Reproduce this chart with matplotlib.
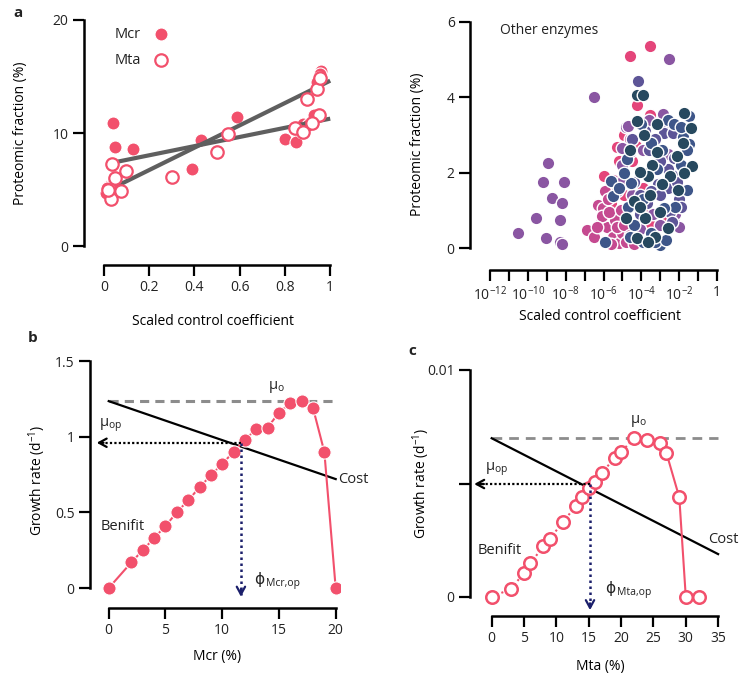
import matplotlib.pyplot as plt
import numpy as np
from matplotlib.ticker import NullLocator

# Panel a (left): proteomic fraction vs scaled control coefficient
mcr_cc = [0.04, 0.05, 0.13, 0.035, 0.02, 0.03, 0.01, 0.04, 0.015, 0.39, 0.43, 0.59,
          0.80, 0.85, 0.875, 0.88, 0.90, 0.93, 0.96, 0.955, 0.95, 0.94]
mcr_frac = [10.9, 8.8, 8.6, 7.3, 5.3, 4.9, 4.7, 5.5, 5.1, 6.8, 9.4, 11.4,
            9.5, 9.2, 10.1, 10.8, 10.7, 11.6, 15.5, 15.2, 14.9, 14.5]
mta_cc = [0.035, 0.047, 0.096, 0.074, 0.032, 0.018, 0.30, 0.50, 0.55,
          0.845, 0.897, 0.94, 0.956, 0.95, 0.88, 0.92]
mta_frac = [7.3, 6.0, 6.6, 4.9, 4.2, 5.0, 6.15, 8.35, 9.9,
            10.4, 13.0, 13.9, 14.9, 11.6, 10.1, 10.9]
# linear fits (slope, intercept) shown as grey lines
mcr_fit = (4.05, 7.22)
mta_fit = (9.88, 4.75)
fit_range = (0.06, 1.0)

# Panel a (right): other enzymes, log10 of control coefficient
pink_exp = [-4.6, -3.55, -5.3, -4.25, -3.55, -6.0, -5.6, -4.9, -3.9, -3.3, -2.9, -4.5,
            -5.2, -4.9, -3.9, -4.3, -4.9, -3.5, -2.8]
pink_frac = [5.10, 5.36, 2.69, 3.80, 3.53, 1.9, 1.2, 0.95, 1.0, 1.5, 3.2, 2.3,
             2.3, 3.0, 1.6, 2.7, 1.4, 0.6, 0.8]
magenta_exp = [-6.89, -6.3, -6.05, -6.2, -5.8, -5.5, -5.4, -5.2, -5.0, -5.9, -4.8, -4.6,
               -5.5, -6.5, -6.1, -5.7, -5.3, -5.6, -4.9, -4.6, -5.1, -6.35, -4.4, -5.75]
magenta_frac = [0.47, 1.15, 1.05, 0.65, 0.55, 0.30, 0.75, 0.13, 0.4, 1.5, 0.15, 2.9,
                1.8, 0.3, 0.85, 0.95, 0.55, 0.1, 0.6, 0.35, 1.0, 0.55, 0.1, 1.3]
purple_exp = [-10.54, -9.59, -9.22, -8.95, -9.06, -8.74, -8.21, -8.30, -8.09, -8.3, -8.18,
              -6.49, -2.53, -2.85, -4.8, -5.0, -4.5, -3.0, -2.3, -4.1, -2.6,
              -5.3, -4.95, -4.6, -3.9, -3.4, -2.2, -4.7, -3.6, -2.7, -2.0, -5.0]
purple_frac = [0.40, 0.80, 1.74, 2.25, 0.26, 1.33, 1.19, 0.75, 1.74, 0.15, 0.10,
               4.02, 5.01, 3.55, 3.2, 2.2, 1.4, 0.6, 0.7, 0.5, 2.5,
               1.5, 1.8, 2.55, 2.6, 0.9, 0.9, 3.25, 3.4, 3.3, 0.55, 2.65]
slate_exp = [-4.2, -3.6, -2.8, -2.4, -2.3, -2.6, -4.4, -3.1, -2.5, -3.5, -3.8, -2.0, -2.35,
             -4.1, -3.7, -3.3, -2.6, -2.1, -1.9, -3.0, -4.5, -4.1, -3.0, -2.4]
slate_frac = [4.43, 2.6, 3.05, 1.95, 2.4, 1.6, 1.75, 1.7, 0.95, 1.5, 3.1, 1.3, 3.05,
              1.4, 1.2, 2.9, 2.1, 1.75, 1.1, 2.3, 2.9, 0.9, 1.4, 0.7]
blue_exp = [-4.75, -5.6, -5.5, -5.9, -3.0, -4.55, -2.2, -3.9, -3.3, -4.4, -2.8,
            -1.8, -1.5, -1.9, -3.2, -1.6, -4.0, -3.7,
            -4.9, -5.2, -4.7, -3.5, -2.6, -3.9, -2.3, -1.6, -1.5, -3.5, -2.7, -4.6, -1.9, -2.9]
blue_frac = [2.36, 1.77, 1.37, 0.15, 0.09, 1.72, 1.10, 0.15, 0.15, 0.6, 1.05,
             2.95, 2.75, 2.2, 2.1, 1.55, 3.3, 2.0,
             2.0, 1.6, 1.1, 2.8, 3.4, 1.3, 3.3, 2.6, 3.5, 0.4, 0.2, 0.3, 3.2, 2.6]
navy_exp = [-4.25, -3.9, -4.25, -3.85, -3.2, -3.15, -3.45, -3.65, -4.05, -4.4, -4.8,
            -3.8, -4.25, -3.3, -2.6, -1.75, -1.40, -1.8, -1.3, -1.75, -2.5,
            -3.55, -2.9, -2.1, -4.6, -3.0, -2.05, -4.05, -3.65]
navy_frac = [4.06, 4.06, 3.38, 3.0, 3.3, 2.56, 2.2, 1.9, 2.03, 1.24, 0.80,
             0.80, 0.27, 0.29, 0.52, 3.58, 3.18, 2.78, 2.19, 1.99, 1.9,
             1.4, 1.7, 2.45, 2.6, 0.95, 1.55, 1.1, 0.15]

# Panel b: Mcr
mcr_pct = [0, 2, 3, 4, 5, 6, 7, 8, 9, 10, 11, 12, 13, 14, 15, 16, 17, 18, 19, 20]
mcr_benefit = [0, 0.17, 0.25, 0.33, 0.41, 0.50, 0.58, 0.665, 0.745, 0.82, 0.90,
               0.98, 1.05, 1.06, 1.16, 1.22, 1.235, 1.19, 0.90, 0]
mcr_cost = [1.235, 0.72]
mcr_mu_o = 1.235
mcr_mu_op = 0.96
mcr_phi_op = 11.65

# Panel c: Mta
mta_pct = [0, 3, 5, 6, 8, 9, 11, 13, 14, 15, 16, 17, 19, 20, 22, 24, 26, 27, 29, 30, 32]
mta_benefit = [0, 0.00034, 0.00106, 0.00147, 0.00224, 0.00256, 0.00329, 0.0040, 0.00441,
               0.00478, 0.00507, 0.00547, 0.0061, 0.00638, 0.00699, 0.00691, 0.0068,
               0.00635, 0.00438, 0, 0]
mta_cost = [0.00699, 0.00188]
mta_mu_o = 0.00699
mta_mu_op = 0.00497
mta_phi_op = 15.2

PINK = '#F2506C'
GREY_FIT = '#5F5F5F'
GREY_DASH = '#8C8C8C'
NAVY = '#1B1F6B'
ENZ_COLORS = ['#E4457A', '#C54A90', '#8A56A2', '#5D5597', '#3E5689', '#27495F']

plt.rcParams['font.family'] = ['Open Sans', 'DejaVu Sans']
plt.rcParams['mathtext.fontset'] = 'custom'
plt.rcParams['mathtext.rm'] = 'Open Sans'
plt.rcParams['mathtext.it'] = 'Open Sans:italic'
plt.rcParams['mathtext.bf'] = 'Open Sans:bold'
plt.rcParams['font.size'] = 10
plt.rcParams['axes.linewidth'] = 1.8
plt.rcParams['xtick.major.width'] = 1.6
plt.rcParams['ytick.major.width'] = 1.6
plt.rcParams['xtick.major.size'] = 8
plt.rcParams['ytick.major.size'] = 8
plt.rcParams['text.color'] = '#222222'
plt.rcParams['xtick.color'] = 'black'
plt.rcParams['ytick.color'] = 'black'
plt.rcParams['xtick.labelcolor'] = '#222222'
plt.rcParams['ytick.labelcolor'] = '#222222'

W, H = 741, 675
fig = plt.figure(figsize=(W / 100, H / 100), dpi=100)


def px_axes(left, top, right, bottom):
    return fig.add_axes([left / W, 1 - bottom / H, (right - left) / W, (bottom - top) / H])


def style(ax, xb, yb):
    for s in ('top', 'right'):
        ax.spines[s].set_visible(False)
    ax.spines['left'].set_bounds(*yb)
    ax.spines['bottom'].set_bounds(*xb)
    ax.tick_params(pad=3, labelsize=10)


def arrow_head(ax, x, y, dx, dy, color):
    ax.annotate('', xy=(x, y), xytext=(x + dx, y + dy),
                arrowprops=dict(arrowstyle='->,head_length=0.55,head_width=0.3',
                                lw=1.6, color=color, shrinkA=0, shrinkB=0))


def phi_label(ax, x, y, sub):
    # phi symbol from DejaVu (straight stem), subscript in the main font
    ax.text(x, y, '\u03d5', va='center', ha='left', fontsize=11, family='DejaVu Sans')
    ax.annotate(sub, (x, y), xytext=(8.5, -3), textcoords='offset points',
                va='center', ha='left', fontsize=7.5)


# ---- panel a left
ax1 = px_axes(84, 16.6, 337, 265)
ax1.scatter(mcr_cc, mcr_frac, s=88, color=PINK, edgecolor='white', linewidth=0.8,
            zorder=2, label='Mcr')
fx = np.array(fit_range)
for slope, icpt in (mcr_fit, mta_fit):
    ax1.plot(fx, slope * fx + icpt, color=GREY_FIT, lw=3, zorder=3,
             solid_capstyle='butt')
ax1.scatter(mta_cc, mta_frac, s=80, facecolor='white', edgecolor=PINK, linewidth=1.6,
            zorder=4, label='Mta')
ax1.set_xlim(-0.0885, 1.03)
ax1.set_ylim(-1.68, 20.3)
ax1.set_xticks([0, 0.2, 0.4, 0.6, 0.8, 1])
ax1.set_xticklabels(['0', '0.2', '0.4', '0.6', '0.8', '1'])
ax1.set_yticks([0, 10, 20])
style(ax1, (0, 1), (0, 20))
ax1.set_xlabel('Scaled control coefficient')
ax1.set_ylabel('Proteomic fraction (%)')
ax1.xaxis.set_label_coords(0.51, -0.196)
ax1.yaxis.set_label_coords(-0.222, 0.53)
ax1.legend(loc='upper left', bbox_to_anchor=(0.08, 0.998), frameon=False,
           markerfirst=False, handletextpad=0.35, labelspacing=0.7, fontsize=10.5,
           borderpad=0.2)

# ---- panel a right
ax2 = px_axes(470, 18, 722, 270)
groups = [(pink_exp, pink_frac), (magenta_exp, magenta_frac), (purple_exp, purple_frac),
          (slate_exp, slate_frac), (blue_exp, blue_frac), (navy_exp, navy_frac)]
for (ex, fr), col in zip(groups, ENZ_COLORS):
    ax2.scatter(10.0 ** np.array(ex), fr, s=82, color=col, edgecolor='white',
                linewidth=1.0, zorder=2)
ax2.set_xscale('log')
ax2.set_xlim(10 ** -13.06, 10 ** 0.26)
ax2.set_ylim(-0.584, 6.106)
decades = list(range(-12, 1))
ax2.set_xticks([10.0 ** k for k in decades])
ax2.set_xticklabels(['1' if k == 0 else (r'$10^{%d}$' % k if k % 2 == 0 else '')
                     for k in decades])
ax2.xaxis.set_minor_locator(NullLocator())
ax2.set_yticks([0, 2, 4, 6])
style(ax2, (1e-12, 1), (0, 6))
ax2.set_xlabel('Scaled control coefficient')
ax2.set_ylabel('Proteomic fraction (%)')
ax2.xaxis.set_label_coords(0.516, -0.156)
ax2.yaxis.set_label_coords(-0.178, 0.5)
ax2.text(0.12, 0.952, 'Other enzymes', transform=ax2.transAxes, va='center', ha='left')

# ---- panel b
ax3 = px_axes(90, 355, 340, 608)
ax3.plot([0, 20], [mcr_mu_o, mcr_mu_o], color=GREY_DASH, lw=2.2, dashes=(3, 2), zorder=1)
ax3.plot([0, 20], mcr_cost, color='black', lw=1.6, zorder=2)
ax3.plot(mcr_pct, mcr_benefit, color=PINK, lw=1.5, marker='o', ms=9.5,
         mfc=PINK, mec='white', mew=0.8, zorder=3)
ax3.plot([mcr_phi_op, -0.9], [mcr_mu_op, mcr_mu_op], color='black', lw=1.6,
         ls=(0, (1, 1)), zorder=4)
arrow_head(ax3, -1.06, mcr_mu_op, 0.6, 0, 'black')
ax3.plot([mcr_phi_op, mcr_phi_op], [mcr_mu_op, -0.045], color=NAVY, lw=1.8,
         ls=(0, (1, 1.4)), zorder=4)
arrow_head(ax3, mcr_phi_op, -0.057, 0, 0.05, NAVY)
ax3.set_xlim(-1.65, 20.38)
ax3.set_ylim(-0.132, 1.54)
ax3.set_xticks([0, 5, 10, 15, 20])
ax3.set_yticks([0, 0.5, 1, 1.5])
ax3.set_yticklabels(['0', '0.5', '1', '1.5'])
style(ax3, (0, 20), (0, 1.5))
ax3.set_xlabel('Mcr (%)')
ax3.set_ylabel('Growth rate (d$^{-1}$)')
ax3.xaxis.set_label_coords(0.51, -0.162)
ax3.yaxis.set_label_coords(-0.168, 0.506)
ax3.text(14.0, 1.33, 'μ$_{\\mathregular{o}}$', va='center', ha='left', fontsize=10.5)
ax3.text(-0.83, 1.077, 'μ$_{\\mathregular{op}}$', va='center', ha='left', fontsize=10.5)
ax3.text(-0.68, 0.405, 'Benifit', va='center', ha='left', fontsize=10.5)
ax3.text(20.23, 0.718, 'Cost', va='center', ha='left', fontsize=10.5, clip_on=False)
phi_label(ax3, 12.8, 0.055, 'Mcr,op')

# ---- panel c
ax4 = px_axes(470, 365, 722, 616)
ax4.plot([0, 35], [mta_mu_o, mta_mu_o], color=GREY_DASH, lw=2.0, dashes=(3.5, 2.5), zorder=1)
ax4.plot([0, 35], mta_cost, color='black', lw=1.6, zorder=2)
peak = mta_pct.index(27)
ax4.plot(mta_pct[:peak + 1], mta_benefit[:peak + 1], color=PINK, lw=1.5,
         ls=(0, (1, 1.5)), zorder=3)
ax4.plot(mta_pct[peak:], mta_benefit[peak:], color=PINK, lw=1.5, zorder=3)
ax4.plot(mta_pct, mta_benefit, ls='none', marker='o', ms=9, mfc='white', mec=PINK,
         mew=1.8, zorder=4)
ax4.plot([mta_phi_op, -2.6], [mta_mu_op, mta_mu_op], color='black', lw=1.6,
         ls=(0, (1, 1)), zorder=5)
arrow_head(ax4, -2.7, mta_mu_op, 1.5, 0, 'black')
ax4.plot([mta_phi_op, mta_phi_op], [mta_mu_op, -0.0005], color=NAVY, lw=1.8,
         ls=(0, (1, 1.4)), zorder=5)
arrow_head(ax4, mta_phi_op, -0.00059, 0, 0.0003, NAVY)
ax4.set_xlim(-3.35, 35.6)
ax4.set_ylim(-0.00085, 0.01022)
ax4.set_xticks([0, 5, 10, 15, 20, 25, 30, 35])
ax4.set_yticks([0, mta_mu_op, 0.01])
ax4.set_yticklabels(['0', '', '0.01'])
style(ax4, (0, 35), (0, 0.01))
ax4.set_xlabel('Mta (%)')
ax4.set_ylabel('Growth rate (d$^{-1}$)')
ax4.xaxis.set_label_coords(0.516, -0.171)
ax4.yaxis.set_label_coords(-0.152, 0.53)
ax4.text(21.4, 0.00776, 'μ$_{\\mathregular{o}}$', va='center', ha='left', fontsize=10.5)
ax4.text(-1.0, 0.00562, 'μ$_{\\mathregular{op}}$', va='center', ha='left', fontsize=10.5)
ax4.text(-2.2, 0.00203, 'Benifit', va='center', ha='left', fontsize=10.5)
ax4.text(33.5, 0.00253, 'Cost', va='center', ha='left', fontsize=10.5, clip_on=False)
phi_label(ax4, 17.5, 0.00038, 'Mta,op')

# panel letters
fig.text(18 / W, 1 - 13 / H, 'a', fontweight='bold', fontsize=11, ha='center', va='center')
fig.text(33 / W, 1 - 338 / H, 'b', fontweight='bold', fontsize=11, ha='center', va='center')
fig.text(412 / W, 1 - 351 / H, 'c', fontweight='bold', fontsize=11, ha='center', va='center')

fig.savefig('out.png', dpi=100)
